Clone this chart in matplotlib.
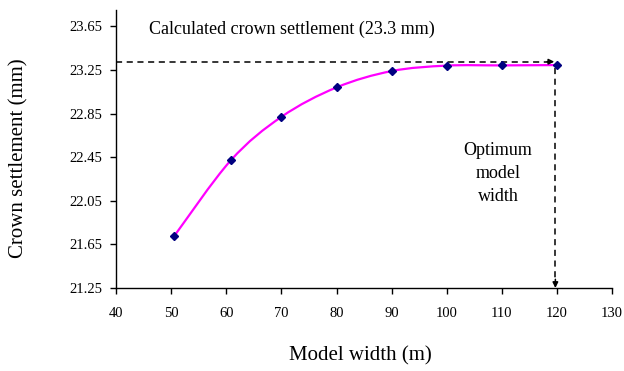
import matplotlib
matplotlib.use("Agg")
import matplotlib.pyplot as plt
import numpy as np
from matplotlib.path import Path
from matplotlib.patches import PathPatch

plt.rcParams["font.family"] = ["Liberation Serif", "DejaVu Serif"]

# data
model_width = [50.6, 60.8, 70.0, 80.0, 90.0, 100.0, 110.0, 120.0]
settlement = [21.73, 22.42, 22.82, 23.09, 23.24, 23.29, 23.292, 23.295]
calc_settlement = 23.326
optimum_width = 119.7
x_ticks = [40, 50, 60, 70, 80, 90, 100, 110, 120, 130]
y_ticks = [21.25, 21.65, 22.05, 22.45, 22.85, 23.25, 23.65]


def smooth_path(xs, ys):
    # excel-like smoothed line: cubic bezier through every point
    pts = np.column_stack([xs, ys])
    n = len(pts)
    verts = [pts[0]]
    codes = [Path.MOVETO]
    for i in range(n - 1):
        p0 = pts[max(i - 1, 0)]
        p1 = pts[i]
        p2 = pts[i + 1]
        p3 = pts[min(i + 2, n - 1)]
        verts += [p1 + (p2 - p0) / 6, p2 - (p3 - p1) / 6, p2]
        codes += [Path.CURVE4] * 3
    return Path(verts, codes)


fig = plt.figure(figsize=(6.24, 3.71), dpi=100)
ax = fig.add_axes([0.186, 0.2237, 0.795, 0.7493])

ax.add_patch(PathPatch(smooth_path(model_width, settlement), fill=False,
                       edgecolor="#ff00ff", lw=1.6, zorder=3))
ax.plot(model_width, settlement, ls="none", marker="D", ms=4.5,
        color="#000080", zorder=4)

# dashed guide lines with arrow heads
ax.plot([40, optimum_width - 0.6], [calc_settlement, calc_settlement],
        color="black", ls=(0, (4, 3)), lw=1.1, zorder=2)
ax.annotate("", xy=(optimum_width - 0.2, calc_settlement),
            xytext=(optimum_width - 1.5, calc_settlement),
            arrowprops=dict(arrowstyle="-|>", color="black", lw=1.1,
                            mutation_scale=8, shrinkA=0, shrinkB=0))
ax.plot([optimum_width, optimum_width], [23.27, 21.28],
        color="black", ls=(0, (4, 3)), lw=1.1, zorder=2)
ax.annotate("", xy=(optimum_width, 21.25),
            xytext=(optimum_width, 21.33),
            arrowprops=dict(arrowstyle="-|>", color="black", lw=1.1,
                            mutation_scale=8, shrinkA=0, shrinkB=0))

ax.text(46.0, 23.62, "Calculated crown settlement (23.3 mm)",
        ha="left", va="center", fontsize=13)
ax.text(109.3, 22.30, "Optimum\nmodel\nwidth", ha="center", va="center",
        fontsize=13, linespacing=1.45)

ax.set_xlim(40, 130)
ax.set_ylim(21.25, 23.8)
ax.set_xticks(x_ticks)
ax.set_yticks(y_ticks)
ax.set_yticklabels([f"{v:.2f}" for v in y_ticks])
ax.tick_params(direction="out", length=4, width=1, labelsize=10.5,
               colors="black")
ax.tick_params(axis="x", pad=10)
ax.tick_params(axis="y", pad=6)
for side in ["top", "right"]:
    ax.spines[side].set_visible(False)
for side in ["left", "bottom"]:
    ax.spines[side].set_linewidth(1)

fig.text(360 / 624, 1 - 356 / 371, "Model width (m)", fontsize=15,
         ha="center", va="center")
fig.text(19 / 624, 1 - 158 / 371, "Crown settlement (mm)", fontsize=15,
         ha="center", va="center", rotation=90)

fig.savefig("out.png", dpi=100)
plt.close(fig)
